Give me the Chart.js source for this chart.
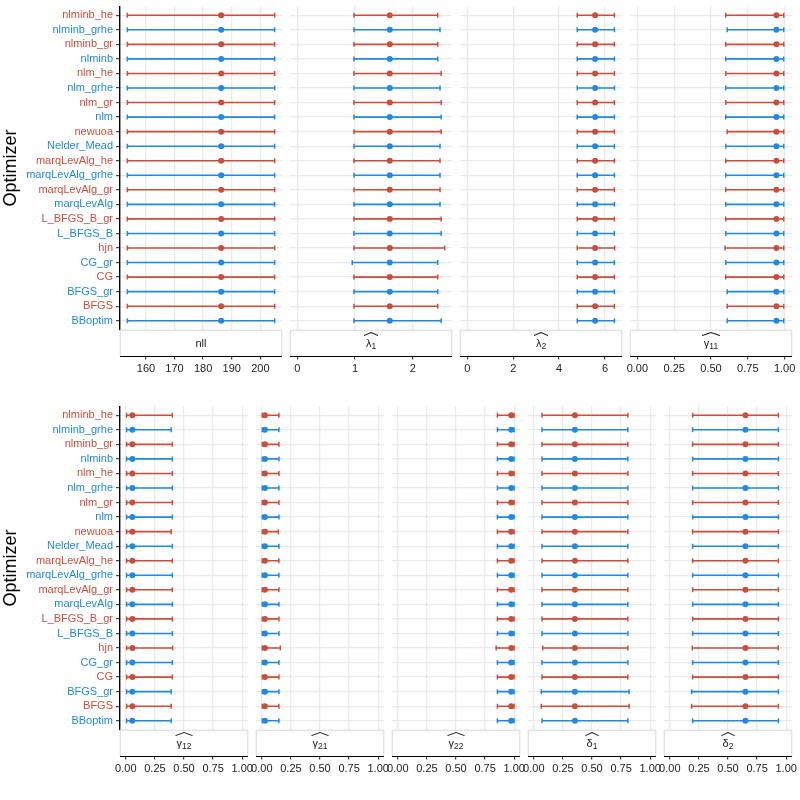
<!DOCTYPE html>
<html>
<head>
<meta charset="utf-8">
<script src="https://cdn.jsdelivr.net/npm/chart.js@4.4.1/dist/chart.umd.min.js"></script>
<style>
  body { margin: 0; background: #fff; }
  #wrap { position: relative; width: 800px; height: 800px; background: #fff; font-family: 'Liberation Sans', Arial, sans-serif; }
  .panel { position: absolute; }
  .strip { position: absolute; box-sizing: border-box; height: 26px; background: #fff;
           border: 1px solid #e2e2e2; border-bottom: none; box-shadow: 0 0 1.5px #d4d4d4;
           display: flex; align-items: center; justify-content: center; font-size: 11px; color: #1a1a1a; }
  .axisline { position: absolute; height: 1.4px; background: #000; }
  .hat { position: relative; display: inline-block; padding-top: 2px; }
  .hat::before { content: ''; position: absolute; left: -1.5px; right: -1.5px; top: -3.5px; height: 4.5px;
    background: no-repeat center / 100% 100% url("data:image/svg+xml,%3Csvg xmlns='http://www.w3.org/2000/svg' viewBox='0 0 20 4' preserveAspectRatio='none'%3E%3Cpath d='M0.5 3.6 L10 0.5 L19.5 3.6' fill='none' stroke='%23222' stroke-width='1' vector-effect='non-scaling-stroke'/%3E%3C/svg%3E"); }
  .hat sub { font-size: 8.5px; vertical-align: -2px; }
</style>
</head>
<body>
<div id="wrap"></div>
<script>
// Optimizers, top to bottom
const optimizers = ['nlminb_he', 'nlminb_grhe', 'nlminb_gr', 'nlminb', 'nlm_he', 'nlm_grhe', 'nlm_gr', 'nlm',
  'newuoa', 'Nelder_Mead', 'marqLevAlg_he', 'marqLevAlg_grhe', 'marqLevAlg_gr', 'marqLevAlg',
  'L_BFGS_B_gr', 'L_BFGS_B', 'hjn', 'CG_gr', 'CG', 'BFGS_gr', 'BFGS', 'BBoptim'];

// Estimates and interval bounds, one value per optimizer
const nllEst = [186.3, 186.3, 186.3, 186.3, 186.3, 186.3, 186.3, 186.3, 186.3, 186.3, 186.3, 186.3, 186.3, 186.3, 186.3, 186.3, 186.3, 186.3, 186.3, 186.3, 186.3, 186.3];
const nllLo = [153.5, 153.5, 153.5, 153.5, 153.5, 153.5, 153.5, 153.5, 153.5, 153.5, 153.5, 153.5, 153.5, 153.5, 153.5, 153.5, 153.5, 153.5, 153.5, 153.5, 153.5, 153.5];
const nllHi = [205.0, 205.0, 205.0, 205.0, 205.0, 205.0, 205.0, 205.0, 205.0, 205.0, 205.0, 205.0, 205.0, 205.0, 205.0, 205.0, 205.0, 205.0, 205.0, 205.0, 205.0, 205.0];

const lambda1Est = [1.60, 1.60, 1.60, 1.60, 1.60, 1.60, 1.60, 1.60, 1.60, 1.60, 1.60, 1.60, 1.60, 1.60, 1.60, 1.60, 1.60, 1.60, 1.60, 1.60, 1.60, 1.60];
const lambda1Lo = [0.98, 0.98, 0.98, 0.98, 0.98, 0.98, 0.98, 0.98, 0.98, 0.98, 0.98, 0.98, 0.98, 0.98, 0.98, 0.98, 0.98, 0.95, 0.98, 0.98, 0.98, 0.98];
const lambda1Hi = [2.43, 2.47, 2.43, 2.43, 2.49, 2.47, 2.49, 2.49, 2.49, 2.47, 2.47, 2.47, 2.47, 2.47, 2.49, 2.49, 2.55, 2.43, 2.43, 2.43, 2.43, 2.49];

const lambda2Est = [5.57, 5.57, 5.57, 5.57, 5.57, 5.57, 5.57, 5.57, 5.57, 5.57, 5.57, 5.57, 5.57, 5.57, 5.57, 5.57, 5.57, 5.57, 5.57, 5.57, 5.57, 5.57];
const lambda2Lo = [4.79, 4.79, 4.79, 4.79, 4.79, 4.79, 4.79, 4.79, 4.79, 4.79, 4.79, 4.79, 4.79, 4.79, 4.79, 4.79, 4.79, 4.79, 4.79, 4.79, 4.79, 4.79];
const lambda2Hi = [6.41, 6.41, 6.41, 6.41, 6.41, 6.41, 6.41, 6.41, 6.41, 6.41, 6.41, 6.41, 6.41, 6.41, 6.41, 6.41, 6.42, 6.41, 6.41, 6.41, 6.41, 6.41];

const gamma11Est = [0.944, 0.944, 0.944, 0.944, 0.944, 0.944, 0.944, 0.944, 0.944, 0.944, 0.944, 0.944, 0.944, 0.944, 0.944, 0.944, 0.944, 0.944, 0.944, 0.944, 0.944, 0.944];
const gamma11Lo = [0.60, 0.61, 0.60, 0.60, 0.60, 0.60, 0.60, 0.60, 0.61, 0.60, 0.60, 0.60, 0.60, 0.60, 0.60, 0.60, 0.595, 0.60, 0.60, 0.61, 0.61, 0.61];
const gamma11Hi = [0.994, 0.994, 0.994, 0.994, 0.994, 0.994, 0.994, 0.994, 0.994, 0.994, 0.994, 0.994, 0.994, 0.994, 0.994, 0.994, 0.994, 0.994, 0.994, 0.994, 0.994, 0.994];

const gamma12Est = [0.056, 0.056, 0.056, 0.056, 0.056, 0.056, 0.056, 0.056, 0.056, 0.056, 0.056, 0.056, 0.056, 0.056, 0.056, 0.056, 0.056, 0.056, 0.056, 0.056, 0.056, 0.056];
const gamma12Lo = [0.007, 0.007, 0.007, 0.007, 0.007, 0.007, 0.007, 0.007, 0.007, 0.007, 0.007, 0.007, 0.007, 0.007, 0.007, 0.007, 0.007, 0.007, 0.007, 0.007, 0.007, 0.007];
const gamma12Hi = [0.40, 0.39, 0.40, 0.40, 0.40, 0.40, 0.40, 0.40, 0.39, 0.40, 0.40, 0.40, 0.40, 0.40, 0.40, 0.40, 0.402, 0.40, 0.40, 0.39, 0.39, 0.39];

const gamma21Est = [0.027, 0.027, 0.027, 0.027, 0.027, 0.027, 0.027, 0.027, 0.027, 0.027, 0.027, 0.027, 0.027, 0.027, 0.027, 0.027, 0.027, 0.027, 0.027, 0.027, 0.027, 0.027];
const gamma21Lo = [0.004, 0.004, 0.004, 0.004, 0.004, 0.004, 0.004, 0.004, 0.004, 0.004, 0.004, 0.004, 0.004, 0.004, 0.004, 0.004, 0.004, 0.004, 0.004, 0.004, 0.004, 0.004];
const gamma21Hi = [0.147, 0.147, 0.147, 0.147, 0.147, 0.147, 0.147, 0.147, 0.142, 0.147, 0.147, 0.147, 0.147, 0.147, 0.147, 0.147, 0.159, 0.147, 0.147, 0.147, 0.147, 0.147];

const gamma22Est = [0.974, 0.974, 0.974, 0.974, 0.974, 0.974, 0.974, 0.974, 0.974, 0.974, 0.974, 0.974, 0.974, 0.974, 0.974, 0.974, 0.974, 0.974, 0.974, 0.974, 0.974, 0.974];
const gamma22Lo = [0.856, 0.856, 0.856, 0.856, 0.856, 0.856, 0.856, 0.856, 0.856, 0.856, 0.856, 0.856, 0.856, 0.856, 0.856, 0.856, 0.845, 0.856, 0.856, 0.856, 0.856, 0.856];
const gamma22Hi = [0.999, 0.999, 0.999, 0.999, 0.999, 0.999, 0.999, 0.999, 0.999, 0.999, 0.999, 0.999, 0.999, 0.999, 0.999, 0.999, 0.999, 0.999, 0.999, 0.999, 0.999, 0.999];

const delta1Est = [0.353, 0.353, 0.353, 0.353, 0.353, 0.353, 0.353, 0.353, 0.353, 0.353, 0.353, 0.353, 0.353, 0.353, 0.353, 0.353, 0.353, 0.353, 0.353, 0.353, 0.353, 0.353];
const delta1Lo = [0.070, 0.070, 0.070, 0.070, 0.070, 0.070, 0.070, 0.070, 0.070, 0.070, 0.070, 0.070, 0.070, 0.070, 0.070, 0.070, 0.076, 0.070, 0.070, 0.064, 0.064, 0.070];
const delta1Hi = [0.808, 0.808, 0.808, 0.808, 0.808, 0.808, 0.808, 0.808, 0.808, 0.808, 0.808, 0.808, 0.808, 0.808, 0.808, 0.808, 0.808, 0.808, 0.808, 0.819, 0.819, 0.808];

const delta2Est = [0.650, 0.650, 0.650, 0.650, 0.650, 0.650, 0.650, 0.650, 0.650, 0.650, 0.650, 0.650, 0.650, 0.650, 0.650, 0.650, 0.650, 0.650, 0.650, 0.650, 0.650, 0.650];
const delta2Lo = [0.196, 0.196, 0.196, 0.196, 0.196, 0.196, 0.196, 0.196, 0.196, 0.196, 0.196, 0.196, 0.196, 0.196, 0.196, 0.196, 0.193, 0.196, 0.196, 0.187, 0.187, 0.196];
const delta2Hi = [0.933, 0.933, 0.933, 0.933, 0.933, 0.933, 0.933, 0.933, 0.933, 0.933, 0.933, 0.933, 0.933, 0.933, 0.933, 0.933, 0.931, 0.933, 0.933, 0.933, 0.933, 0.933];

// Tick values and labels
const nllTicks = [160, 170, 180, 190, 200];
const nllTickLabels = ['160', '170', '180', '190', '200'];
const lambda1Ticks = [0, 1, 2];
const lambda1TickLabels = ['0', '1', '2'];
const lambda2Ticks = [0, 2, 4, 6];
const lambda2TickLabels = ['0', '2', '4', '6'];
const unitTicks = [0, 0.25, 0.5, 0.75, 1];
const unitTickLabels = ['0.00', '0.25', '0.50', '0.75', '1.00'];

const RED = '#CB4E3A';
const BLUE = '#2188E5';
const rowColor = i => (i % 2 === 0 ? RED : BLUE);

Chart.defaults.font.family = "'Liberation Sans', Arial, sans-serif";
Chart.defaults.font.size = 11;

// ggplot style 5% expansion of the limits
function expand(a, b) {
    const d = (b - a) * 0.05;
    return [a - d, b + d];
}

const panels = [
    { top: 0, left: 120, width: 162, first: true, label: 'nll',
      est: nllEst, lo: nllLo, hi: nllHi, range: expand(Math.min(...nllLo), Math.max(...nllHi)),
      ticks: nllTicks, tickLabels: nllTickLabels },
    { top: 0, left: 290, width: 162, label: '<span class="hat">λ<sub>1</sub></span>',
      est: lambda1Est, lo: lambda1Lo, hi: lambda1Hi, range: expand(0, Math.max(...lambda1Hi)),
      ticks: lambda1Ticks, tickLabels: lambda1TickLabels },
    { top: 0, left: 460, width: 162, label: '<span class="hat">λ<sub>2</sub></span>',
      est: lambda2Est, lo: lambda2Lo, hi: lambda2Hi, range: expand(0, Math.max(...lambda2Hi)),
      ticks: lambda2Ticks, tickLabels: lambda2TickLabels },
    { top: 0, left: 630, width: 162, label: '<span class="hat">γ<sub>11</sub></span>',
      est: gamma11Est, lo: gamma11Lo, hi: gamma11Hi, range: expand(0, 1),
      ticks: unitTicks, tickLabels: unitTickLabels },
    { top: 400, left: 120, width: 128, first: true, label: '<span class="hat">γ<sub>12</sub></span>',
      est: gamma12Est, lo: gamma12Lo, hi: gamma12Hi, range: expand(0, 1),
      ticks: unitTicks, tickLabels: unitTickLabels },
    { top: 400, left: 256, width: 128, label: '<span class="hat">γ<sub>21</sub></span>',
      est: gamma21Est, lo: gamma21Lo, hi: gamma21Hi, range: expand(0, 1),
      ticks: unitTicks, tickLabels: unitTickLabels },
    { top: 400, left: 392, width: 128, label: '<span class="hat">γ<sub>22</sub></span>',
      est: gamma22Est, lo: gamma22Lo, hi: gamma22Hi, range: expand(0, 1),
      ticks: unitTicks, tickLabels: unitTickLabels },
    { top: 400, left: 528, width: 128, label: '<span class="hat">δ<sub>1</sub></span>',
      est: delta1Est, lo: delta1Lo, hi: delta1Hi, range: expand(0, 1),
      ticks: unitTicks, tickLabels: unitTickLabels },
    { top: 400, left: 664, width: 128, label: '<span class="hat">δ<sub>2</sub></span>',
      est: delta2Est, lo: delta2Lo, hi: delta2Hi, range: expand(0, 1),
      ticks: unitTicks, tickLabels: unitTickLabels }
];

const wrap = document.getElementById('wrap');
const PANEL_H = 385;
const AREA_TOP = 6.5;
const XAXIS_H = 55.5;
const MARGIN = 12;

panels.forEach(p => {
    const leftSpace = p.first ? p.left : MARGIN;
    const box = document.createElement('div');
    box.className = 'panel';
    box.style.left = (p.left - leftSpace) + 'px';
    box.style.top = p.top + 'px';
    box.style.width = (leftSpace + p.width + MARGIN) + 'px';
    box.style.height = PANEL_H + 'px';
    const canvas = document.createElement('canvas');
    box.appendChild(canvas);
    wrap.appendChild(box);

    // error bars: one short line per optimizer, caps from rotated line points
    const datasets = optimizers.map((name, i) => ({
        label: name,
        showLine: true,
        data: [{ x: p.lo[i], y: i }, { x: p.hi[i], y: i }],
        borderColor: rowColor(i),
        borderWidth: 1.6,
        pointStyle: 'line',
        pointRotation: 90,
        pointRadius: 2.5,
        pointBorderColor: rowColor(i),
        pointBorderWidth: 1.5
    }));
    datasets.push({
        label: 'estimate',
        data: p.est.map((v, i) => ({ x: v, y: i })),
        pointRadius: 3,
        pointBackgroundColor: optimizers.map((_, i) => rowColor(i)),
        pointBorderWidth: 0
    });

    new Chart(canvas.getContext('2d'), {
        type: 'scatter',
        data: { datasets: datasets },
        options: {
            responsive: true,
            maintainAspectRatio: false,
            animation: false,
            events: [],
            layout: {
                padding: { top: AREA_TOP, left: p.first ? 0 : MARGIN, right: MARGIN, bottom: 0 }
            },
            plugins: {
                legend: { display: false },
                tooltip: { enabled: false }
            },
            scales: {
                x: {
                    type: 'linear',
                    min: p.range[0],
                    max: p.range[1],
                    afterBuildTicks: s => { s.ticks = p.ticks.map(v => ({ value: v })); },
                    afterFit: s => { s.height = XAXIS_H; s.paddingLeft = 0; s.paddingRight = 0; },
                    ticks: {
                        autoSkip: false,
                        maxRotation: 0,
                        padding: 3,
                        color: '#222',
                        font: { size: 11 },
                        callback: (v, i) => p.tickLabels[i]
                    },
                    grid: {
                        color: '#EAEAEA',
                        lineWidth: 1.3,
                        tickLength: 30,
                        tickColor: '#333',
                        tickWidth: 1.1
                    },
                    border: { display: false }
                },
                y: {
                    type: 'linear',
                    reverse: true,
                    min: -0.6,
                    max: optimizers.length - 0.4,
                    afterBuildTicks: s => { s.ticks = optimizers.map((_, i) => ({ value: i })); },
                    afterFit: s => { s.width = p.first ? p.left : 0; s.paddingTop = 0; s.paddingBottom = 0; },
                    ticks: {
                        display: !!p.first,
                        autoSkip: false,
                        padding: 3,
                        font: { size: 11 },
                        color: ctx => rowColor(ctx.index),
                        callback: v => optimizers[v]
                    },
                    grid: {
                        color: '#EAEAEA',
                        lineWidth: 1.3,
                        drawTicks: !!p.first,
                        tickLength: 4,
                        tickColor: '#333',
                        tickWidth: 1.1
                    },
                    border: { display: !!p.first, color: '#000', width: 1.4 },
                    title: {
                        display: !!p.first,
                        text: 'Optimizer',
                        color: '#000',
                        font: { size: 18 },
                        padding: 0
                    }
                }
            }
        }
    });

    // facet strip below the panel, then the x axis line
    const areaBottom = p.top + PANEL_H - XAXIS_H;
    const strip = document.createElement('div');
    strip.className = 'strip';
    strip.style.left = p.left + 'px';
    strip.style.top = areaBottom + 'px';
    strip.style.width = p.width + 'px';
    strip.innerHTML = p.label;
    wrap.appendChild(strip);
    const line = document.createElement('div');
    line.className = 'axisline';
    line.style.left = p.left + 'px';
    line.style.top = (areaBottom + 26) + 'px';
    line.style.width = p.width + 'px';
    wrap.appendChild(line);
});
</script>
</body>
</html>
